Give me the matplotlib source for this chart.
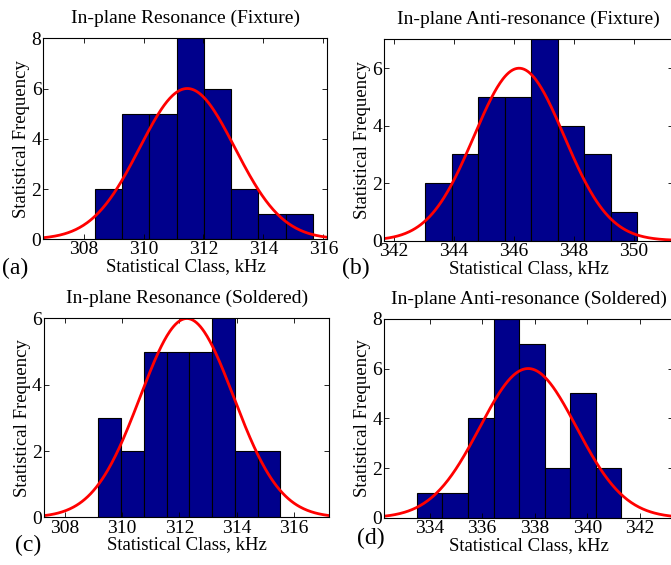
import numpy as np
import matplotlib
matplotlib.use('Agg')
import matplotlib.pyplot as plt

matplotlib.rc('font', family=['Liberation Serif', 'DejaVu Serif'], size=13.5)
matplotlib.rc('mathtext', fontset='stix')

# histogram data (bin start, bin width in kHz, counts)
titles = ['In-plane Resonance (Fixture)', 'In-plane Anti-resonance (Fixture)',
          'In-plane Resonance (Soldered)', 'In-plane Anti-resonance (Soldered)']
panel_tags = ['(a)', '(b)', '(c)', '(d)']

bin_start = [308.37, 343.06, 309.17, 333.52]
bin_width = [0.911, 0.882, 0.794, 0.972]
counts_a = [2, 5, 5, 8, 6, 2, 1, 1]
counts_b = [2, 3, 5, 5, 7, 4, 3, 1]
counts_c = [3, 2, 5, 5, 5, 6, 2, 2]
counts_d = [1, 1, 4, 8, 7, 2, 5, 2]
counts = [counts_a, counts_b, counts_c, counts_d]

# normal fit curves
fit_mean = [311.46, 346.18, 312.26, 337.75]
fit_sigma = [1.59, 1.50, 1.63, 1.84]
fit_peak = [6, 6, 6, 6]

xlims = [(306.66, 316.14), (341.69, 351.30), (307.27, 317.23), (332.28, 343.25)]
ylims = [8, 7, 6, 8]
xticks = [[308, 310, 312, 314, 316], [342, 344, 346, 348, 350],
          [308, 310, 312, 314, 316], [334, 336, 338, 340, 342]]

# axes boxes in figure fraction [left, bottom, width, height]
boxes = [[0.0648, 0.5765, 0.4232, 0.3558],
         [0.5727, 0.5743, 0.4300, 0.3558],
         [0.0655, 0.0841, 0.4252, 0.3522],
         [0.5727, 0.0832, 0.4300, 0.3527]]
tag_pos = [(0.003, 0.515), (0.509, 0.515), (0.022, 0.024), (0.532, 0.037)]

fig = plt.figure(figsize=(6.71, 5.65), dpi=100)

for i in range(4):
    ax = fig.add_axes(boxes[i])
    n = len(counts[i])
    left = bin_start[i] + bin_width[i] * np.arange(n)
    ax.bar(left, counts[i], width=bin_width[i], align='edge',
           color='#00008c', edgecolor='black', linewidth=0.8)
    xs = np.linspace(xlims[i][0], xlims[i][1], 300)
    ys = fit_peak[i] * np.exp(-0.5 * ((xs - fit_mean[i]) / fit_sigma[i]) ** 2)
    ax.plot(xs, ys, color='red', linewidth=2)
    ax.set_xlim(xlims[i])
    ax.set_ylim(0, ylims[i])
    ax.set_xticks(xticks[i])
    ax.set_yticks(range(0, ylims[i] + 1, 2))
    ax.tick_params(direction='in', top=True, right=True, length=3.5,
                   width=0.6, pad=1.5, labelsize=14)
    ax.set_title(titles[i], fontsize=14, pad=11)
    ax.set_xlabel('Statistical Class, kHz', labelpad=0)
    ax.set_ylabel('Statistical Frequency', labelpad=1)
    fig.text(tag_pos[i][0], tag_pos[i][1], panel_tags[i], fontsize=17)

plt.savefig('out.png', dpi=100)
